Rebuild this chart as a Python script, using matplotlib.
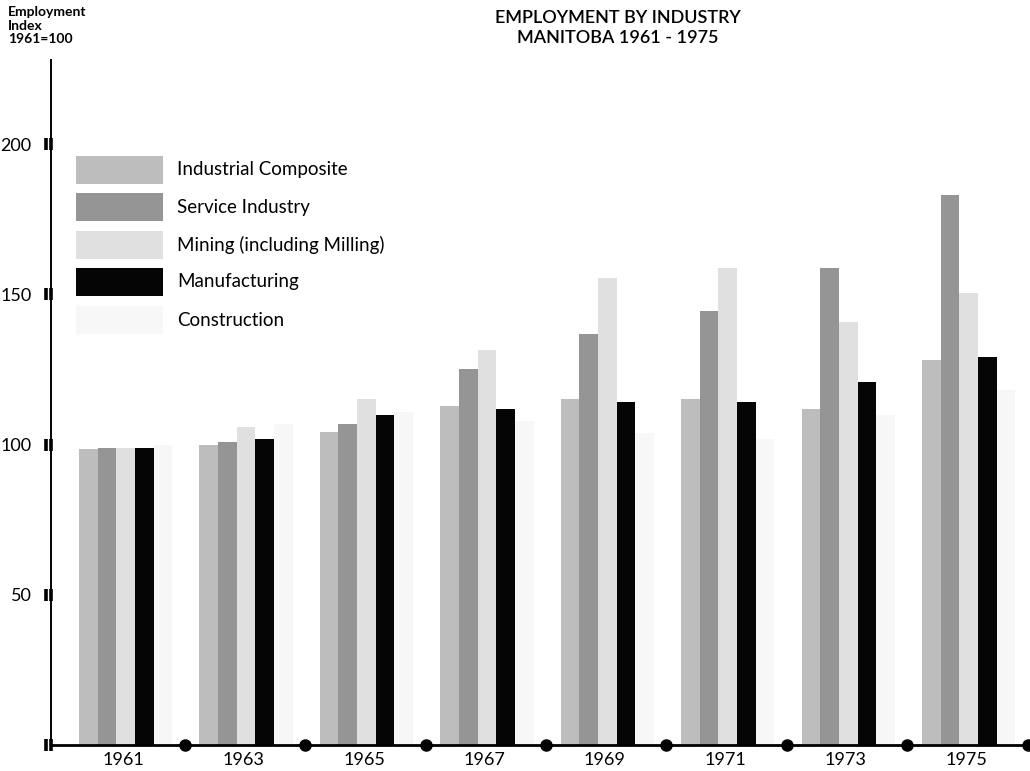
import matplotlib
matplotlib.use("Agg")
import matplotlib.pyplot as plt
import matplotlib.transforms as mtransforms
from matplotlib.patches import Rectangle
import numpy as np

years = ["1961", "1963", "1965", "1967", "1969", "1971", "1973", "1975"]
series_names = ["Industrial Composite", "Service Industry", "Mining (including Milling)",
                "Manufacturing", "Construction"]
industrial = [98.5, 100, 104.3, 112.7, 115, 115, 111.7, 128.3]
service = [99, 101, 106.7, 125, 136.7, 144.3, 158.7, 183]
mining = [99, 106, 115, 131.5, 155.6, 158.7, 140.7, 150.3]
manufacturing = [98.7, 102, 110, 112, 114.3, 114.3, 120.7, 129]
construction = [100, 107, 111, 108, 104, 102, 110, 118]
yticks = [50, 100, 150, 200]

colors = ["#bdbdbd", "#959595", "#e0e0e0", "#050505", "#f7f7f7"]

plt.rcParams['font.family'] = ['Lato', 'DejaVu Sans']

fig = plt.figure(figsize=(10.30, 7.71), dpi=100)
ax = fig.add_axes([51/1030, 1 - 745/771, 1 - 51/1030, (745 - 60)/771])

x = np.arange(len(years))
width = 0.155
offsets = [-0.29, -0.135, 0.02, 0.175, 0.33]
data = [industrial, service, mining, manufacturing, construction]
for vals, off, col in zip(data, offsets, colors):
    ax.bar(x + off, vals, width=width, color=col, edgecolor='none', zorder=2)

ax.set_xlim(-0.6, 7.53)
ax.set_ylim(0, 228)

for s in ["top", "right", "bottom"]:
    ax.spines[s].set_visible(False)
ax.spines["left"].set_linewidth(1.4)

# x axis baseline with dots between groups
ax.axhline(0, color="black", lw=2, zorder=3, clip_on=False)
dots = x + 0.51
ax.plot(dots, np.zeros_like(dots), 'o', color='black', ms=8, zorder=4, clip_on=False)

ax.set_xticks(x)
ax.set_xticklabels(years, fontsize=13)
ax.tick_params(axis='x', length=0, pad=5)

ax.set_yticks(yticks)
ax.set_yticklabels([str(v) for v in yticks], fontsize=13)
ax.tick_params(axis='y', length=0, pad=14)

# double tick marks on y axis
trans = mtransforms.blended_transform_factory(ax.transAxes, ax.transData)
for v in [0] + yticks:
    ax.plot([-0.0055, 0.0005], [v, v], transform=trans, marker='|', ms=8, mew=2.6,
            ls='none', color='black', clip_on=False, zorder=5)

# legend (manual)
leg_y = [170, 207, 245, 282, 320]
for name, col, yy in zip(series_names, colors, leg_y):
    fig.patches.append(Rectangle((76/1030, 1 - (yy + 14)/771), 87/1030, 28/771,
                                 transform=fig.transFigure, facecolor=col,
                                 edgecolor='none', zorder=6))
    fig.text(177/1030, 1 - yy/771, name, fontsize=13.5, va='center', ha='left')

# titles
fig.text(618/1030, 1 - 18/771, "EMPLOYMENT BY INDUSTRY", fontsize=13, ha='center',
         va='center', fontweight='semibold')
fig.text(618/1030, 1 - 38/771, "MANITOBA 1961 - 1975", fontsize=13, ha='center',
         va='center', fontweight='semibold')
fig.text(8/1030, 1 - 6/771, "Employment\nIndex\n1961=100", fontsize=10, ha='left',
         va='top', fontweight='bold', linespacing=1.15)

fig.savefig("out.png", dpi=100)
